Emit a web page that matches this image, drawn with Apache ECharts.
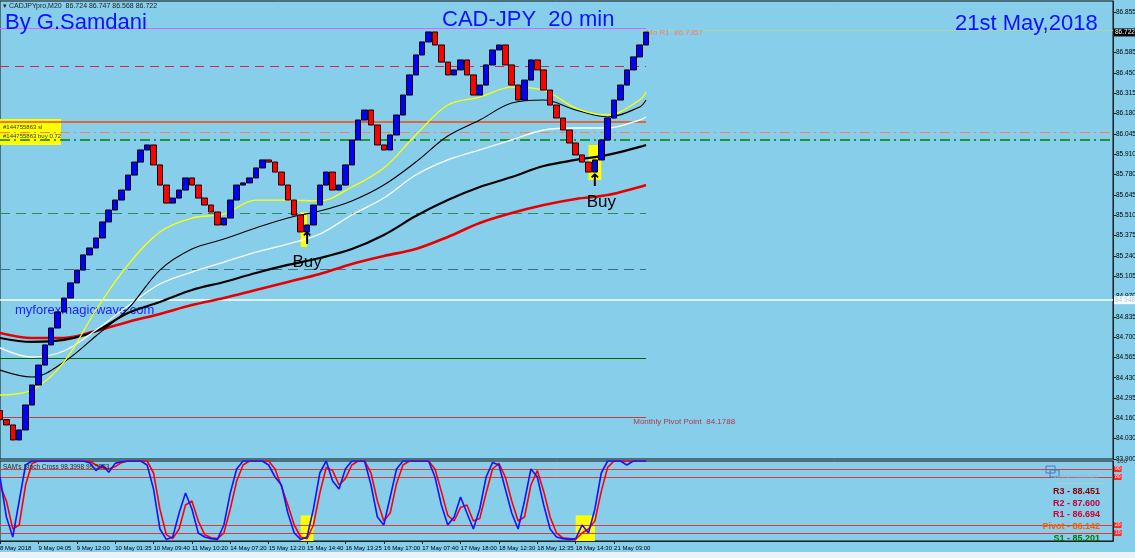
<!DOCTYPE html>
<html><head><meta charset="utf-8">
<script src="https://cdn.jsdelivr.net/npm/echarts/dist/echarts.min.js"></script>
<style>html,body{margin:0;padding:0;background:#87ceeb;overflow:hidden}#c{width:1135px;height:558px}</style>
</head><body><div id="c"></div>
<script>
// ---------- data ----------
const timeLabels = ["8 May 2018","9 May 04:05","9 May 12:00","10 May 01:35","10 May 09:40","11 May 10:20","14 May 07:20","15 May 12:20","15 May 14:40","16 May 13:25","16 May 17:00","17 May 07:40","17 May 18:00","18 May 12:30","18 May 12:35","18 May 14:30","21 May 03:00"];
const priceTickLabels = ["83.900","84.030","84.160","84.295","84.430","84.565","84.700","84.835","84.970","85.105","85.240","85.375","85.510","85.645","85.780","85.910","86.045","86.180","86.315","86.450","86.585","86.720","86.855"];
const firstOpen = 84.22;
const closes = [84.160,84.125,84.026,84.092,84.257,84.389,84.521,84.654,84.766,84.872,84.964,85.064,85.149,85.249,85.295,85.361,85.467,85.546,85.612,85.678,85.777,85.863,85.943,85.976,85.844,85.711,85.592,85.625,85.678,85.758,85.711,85.625,85.579,85.533,85.447,85.493,85.612,85.711,85.725,85.758,85.824,85.877,85.863,85.797,85.711,85.612,85.513,85.401,85.447,85.579,85.711,85.797,85.678,85.711,85.844,86.009,86.141,86.207,86.108,85.976,85.943,86.042,86.174,86.306,86.439,86.571,86.657,86.723,86.637,86.524,86.439,86.472,86.538,86.439,86.306,86.372,86.505,86.604,86.637,86.505,86.372,86.273,86.405,86.538,86.472,86.339,86.240,86.154,86.075,85.989,85.910,85.863,85.797,85.877,86.009,86.154,86.273,86.372,86.472,86.558,86.637,86.722];
const maIndex = [0,5,10,15,20,25,30,35,40,45,50,55,60,65,70,75,80,85,90,95,100,101];
const maYellow = [84.323,84.356,84.541,84.885,85.183,85.401,85.493,85.520,85.612,85.612,85.606,85.698,85.824,86.042,86.240,86.293,86.359,86.339,86.220,86.174,86.273,86.326];
const maBlackThin = [84.488,84.442,84.541,84.713,84.892,85.149,85.288,85.354,85.427,85.493,85.539,85.606,85.711,85.863,86.035,86.141,86.253,86.273,86.207,86.161,86.227,86.273];
const maWhite = [84.634,84.574,84.614,84.753,84.911,85.057,85.136,85.202,85.268,85.321,85.387,85.513,85.625,85.777,85.877,85.943,86.009,86.075,86.088,86.088,86.141,86.161];
const maBlackThick = [84.700,84.674,84.687,84.746,84.865,84.938,85.017,85.070,85.130,85.183,85.229,85.288,85.381,85.506,85.612,85.698,85.764,85.837,85.877,85.910,85.963,85.976];
const maRed = [84.733,84.700,84.700,84.746,84.806,84.859,84.918,84.964,85.017,85.070,85.123,85.189,85.242,85.288,85.368,85.460,85.526,85.579,85.619,85.645,85.698,85.711];
const stochK = [80,30,5,50,95,100,100,100,100,100,100,100,100,100,98,88,95,86,97,99,100,100,100,95,65,15,2,5,35,60,40,10,5,3,2,20,60,90,100,100,100,100,95,80,70,35,10,2,5,40,85,100,75,65,90,100,100,100,70,30,20,55,90,100,100,100,100,100,80,45,20,30,55,35,15,40,80,98,95,65,35,15,50,90,80,45,15,5,3,2,3,20,10,40,85,100,100,100,95,100,100,100];
const stochD = [70,50,15,20,70,97,100,100,100,100,100,100,100,100,100,95,92,90,93,98,100,100,100,100,85,40,8,3,15,45,50,25,8,4,3,10,40,75,95,100,100,100,100,90,68,45,20,5,3,20,60,92,88,70,78,95,100,100,85,50,25,35,72,95,100,100,100,100,90,62,32,25,42,45,25,28,60,90,97,80,50,25,30,70,88,62,30,10,4,3,2,10,15,25,62,92,100,100,100,100,100,100];
const levelPrices = [86.749, 86.7357, 86.498, 86.128, 86.055, 86.009, 85.526, 85.156, 84.948, 84.568, 84.1788];
const stochLevels = [90, 80, 20, 10];
const currentPrice = 86.722;
const pivotTable = ["R3 - 88.451","R2 - 87.600","R1 - 86.694","Pivot - 86.142","S1 - 85.201"];

// ---------- layout / styles ----------
const N = 175, LAST = 101;
const cats = Array.from({length: N}, (_, i) => String(i));
const isLabelIdx = i => i % 6 === 0 && i / 6 < timeLabels.length;
const FONT = '"Liberation Sans", Arial, sans-serif';

const levelStyles = [
  {color:'#c86cff', type:'solid', width:1, partial:true},
  {color:'#a9d6a2', type:'solid', width:1, from:100},
  {color:'#e0204a', type:[9,6], width:1, partial:true},
  {color:'#ff4400', type:'solid', width:1.5, partial:true},
  {color:'#ff7f50', type:[10,4,2,4], width:1, full:true},
  {color:'#008000', type:[10,4,2,4], width:1.5, full:true},
  {color:'#2e8b57', type:[10,6], width:1, partial:true},
  {color:'#3d6f86', type:[10,6], width:1, partial:true},
  {color:'#ffffff', type:'solid', width:1.5, full:true, label:true},
  {color:'#006400', type:'solid', width:1.2, partial:true},
  {color:'#c04040', type:'solid', width:1, partial:true}
];
const levelLines = levelPrices.map((p, k) => {
  const s = levelStyles[k];
  const ls = {color: s.color, type: s.type, width: s.width};
  if (s.full) {
    const item = {yAxis: p, lineStyle: ls, label: {show: false}};
    if (s.label) item.label = {show: true, position: 'end', formatter: '84.948', backgroundColor: '#ffffff', color: '#9fc8dc', fontSize: 6.5, fontFamily: FONT, padding: [1,1,0,1], distance: 1};
    return item;
  }
  const a = s.from != null ? s.from : 0, b = s.from != null ? N - 1 : LAST;
  return [{coord: [a, p], lineStyle: ls, label: {show: false}}, {coord: [b, p]}];
});

const candleData = closes.map((c, i) => {
  const o = i === 0 ? firstOpen : closes[i - 1];
  return [o, c, Math.min(o, c), Math.max(o, c)];
});
const ma = arr => maIndex.map((x, k) => [x, arr[k]]);
const maSeries = (name, arr, color, width) => ({
  name, type: 'line', xAxisIndex: 0, yAxisIndex: 0, data: ma(arr), smooth: 0.35,
  symbol: 'none', lineStyle: {color, width}, z: 2, silent: true
});

const labelStyle = (c, size, bold) => ({fill: c, font: (bold ? 'bold ' : '') + size + 'px ' + FONT});

const option = {
  animation: false,
  backgroundColor: '#87ceeb',
  grid: [
    {left: 0, right: 22, top: 1, height: 458, show: true, borderColor: '#111', borderWidth: 1, backgroundColor: 'transparent', containLabel: false, outerBoundsMode: 'none'},
    {left: 0, right: 22, top: 461, height: 80, show: true, borderColor: '#111', borderWidth: 1, backgroundColor: 'transparent', containLabel: false, outerBoundsMode: 'none'}
  ],
  xAxis: [
    {type: 'category', gridIndex: 0, data: cats, boundaryGap: false, axisLine: {show: false}, axisTick: {show: false}, axisLabel: {show: false}, splitLine: {show: false}},
    {type: 'category', gridIndex: 1, data: cats, boundaryGap: false,
     axisLine: {show: true, lineStyle: {color: '#222'}},
     axisTick: {show: true, interval: (i) => isLabelIdx(i), length: 3, lineStyle: {color: '#222'}},
     axisLabel: {show: true, interval: (i) => isLabelIdx(i), hideOverlap: false, formatter: (v, i) => isLabelIdx(i) ? timeLabels[i / 6] : '', align: 'left', margin: 4, fontSize: 6, color: '#000', fontFamily: FONT},
     splitLine: {show: false}}
  ],
  yAxis: [
    {type: 'value', gridIndex: 0, position: 'right', min: 83.9, max: 86.9277, interval: 0.1343,
     axisLine: {show: true, lineStyle: {color: '#222'}},
     axisTick: {show: true, length: 3, lineStyle: {color: '#222'}},
     axisLabel: {show: true, margin: 3, fontSize: 6.5, color: '#000', fontFamily: FONT, showMaxLabel: false, hideOverlap: false,
       formatter: v => { const k = Math.round((v - 83.9) / 0.1343); return (k >= 0 && k < priceTickLabels.length) ? priceTickLabels[k] : ''; }},
     splitLine: {show: false}},
    {type: 'value', gridIndex: 1, position: 'right', min: 0, max: 100, interval: 50,
     axisLine: {show: true, lineStyle: {color: '#222'}}, axisTick: {show: false},
     axisLabel: {show: true, margin: 4, fontSize: 6, color: '#333', fontFamily: FONT, formatter: v => v === 100 ? '100' : ''},
     splitLine: {show: false}}
  ],
  series: [
    maSeries('MA red', maRed, '#e80000', 2.6),
    maSeries('MA black thick', maBlackThick, '#000000', 2.2),
    Object.assign(maSeries('MA white', maWhite, '#ffffff', 1.3), {
      markLine: {silent: true, symbol: ['none', 'none'], z: 1, animation: false, data: levelLines}
    }),
    maSeries('MA black thin', maBlackThin, '#000000', 1.1),
    Object.assign(maSeries('MA yellow', maYellow, '#ffff00', 1.3), {
      markArea: {silent: true, itemStyle: {color: '#ffff00'}, data: [
        [{coord: [47, 85.533]}, {coord: [48, 85.302]}],
        [{coord: [92, 85.976]}, {coord: [94, 85.744]}]
      ]}
    }),
    {
      name: 'CADJPY', type: 'candlestick', xAxisIndex: 0, yAxisIndex: 0, data: candleData, barWidth: 6, z: 5, silent: true,
      itemStyle: {color: '#0000ff', color0: '#ff0000', borderColor: '#000000', borderColor0: '#1a0000', borderWidth: 1},
      markLine: {silent: true, symbol: ['none', 'none'], data: [
        {yAxis: currentPrice, lineStyle: {width: 0, color: 'rgba(0,0,0,0)'}, label: {show: true, position: 'end', formatter: '86.722', backgroundColor: '#000', color: '#fff', fontSize: 6.5, fontFamily: FONT, padding: [1,1,0,1], distance: 1}}
      ]},
      markPoint: {silent: true, symbolSize: 0, data: [
        {coord: [48, 85.202], label: {show: true, formatter: 'Buy', color: '#000', fontSize: 17, fontFamily: FONT}},
        {coord: [94, 85.599], label: {show: true, formatter: 'Buy', color: '#000', fontSize: 17, fontFamily: FONT}},
        {coord: [48, 85.348], label: {show: true, formatter: '↑', color: '#000', fontSize: 17, fontWeight: 'bold', fontFamily: '"DejaVu Sans", sans-serif'}},
        {coord: [93, 85.731], label: {show: true, formatter: '↑', color: '#000', fontSize: 17, fontWeight: 'bold', fontFamily: '"DejaVu Sans", sans-serif'}},
        {coord: [101, 86.716], label: {show: true, position: 'right', distance: 0, formatter: 'Mo R1  86.7357', color: '#f08070', fontSize: 8, fontFamily: FONT}},
        {coord: [99, 84.148], label: {show: true, position: 'right', distance: 0, formatter: 'Monthly Pivot Point  84.1788', color: '#b03a48', fontSize: 8, fontFamily: FONT}}
      ]}
    },
    {
      name: '%D', type: 'line', xAxisIndex: 1, yAxisIndex: 1, data: stochD, symbol: 'none', lineStyle: {color: '#ff0000', width: 1.6}, z: 3, silent: true,
      markArea: {silent: true, itemStyle: {color: '#ffff00'}, data: [
        [{coord: [47, 32]}, {coord: [49, 0]}],
        [{coord: [90, 32]}, {coord: [93, 0]}]
      ]},
      markLine: {silent: true, symbol: ['none', 'none'], z: 1, data: stochLevels.map(v => ({yAxis: v, lineStyle: {color: '#e03a3a', width: 1, type: 'solid'},
        label: {show: true, position: 'end', formatter: String(v), backgroundColor: '#ff2a2a', color: '#fff', fontSize: 5, padding: [1,1,0,1], distance: 1}}))}
    },
    {name: '%K', type: 'line', xAxisIndex: 1, yAxisIndex: 1, data: stochK, symbol: 'none', lineStyle: {color: '#1414ff', width: 1.6}, z: 4, silent: true}
  ],
  graphic: {elements: [
    {type: 'rect', shape: {x: 0, y: 552, width: 1135, height: 6}, style: {fill: '#edf2f6'}, z: 0, silent: true},
    {type: 'rect', shape: {x: 0, y: 119, width: 61, height: 26}, style: {fill: '#ffff00'}, z: 0, silent: true},
    {type: 'text', x: 3, y: 124, style: Object.assign({text: '#144755863 sl'}, labelStyle('#333', 6)), z: 0, silent: true},
    {type: 'text', x: 3, y: 133, style: Object.assign({text: '#144755863 buy 0.72'}, labelStyle('#333', 6)), z: 0, silent: true},
    {type: 'text', x: 15, y: 304, style: Object.assign({text: 'myforexmagicwave.com'}, labelStyle('#1f1fff', 13)), z: 0, silent: true},
    {type: 'text', x: 3, y: 3, style: Object.assign({text: '▾ CADJPYpro,M20  86.724 86.747 86.568 86.722'}, labelStyle('#222', 7)), z: 100, silent: true},
    {type: 'text', x: 5, y: 12, style: Object.assign({text: 'By G.Samdani'}, labelStyle('#1010ff', 22)), z: 100, silent: true},
    {type: 'text', x: 442, y: 9, style: Object.assign({text: 'CAD-JPY  20 min'}, labelStyle('#1010ff', 22)), z: 100, silent: true},
    {type: 'text', x: 955, y: 13, style: Object.assign({text: '21st May,2018'}, labelStyle('#1010ff', 22)), z: 100, silent: true},
    {type: 'text', x: 3, y: 464, style: Object.assign({text: "SAM's Stoch Cross 98.3998 99.5333"}, labelStyle('#2a2a2a', 6.5)), z: 100, silent: true},
    {type: 'rect', shape: {x: 1046, y: 466, width: 9, height: 7}, style: {fill: 'none', stroke: '#4a78b0', lineWidth: 1}, z: 100, silent: true},
    {type: 'rect', shape: {x: 1050, y: 470, width: 9, height: 7}, style: {fill: 'none', stroke: '#4a78b0', lineWidth: 1}, z: 100, silent: true},
    {type: 'text', x: 1053, y: 474, style: Object.assign({text: 'www.forexstatic.com'}, labelStyle('#93b6cc', 5)), z: 100, silent: true},
    {type: 'rect', shape: {x: 1057, y: 483, width: 48, height: 1}, style: {fill: '#b8c8d2'}, z: 100, silent: true},
    {type: 'text', x: 1100, y: 492, style: Object.assign({text: pivotTable[0], align: 'right', verticalAlign: 'middle'}, labelStyle('#8b0000', 9, true)), z: 100, silent: true},
    {type: 'text', x: 1100, y: 504, style: Object.assign({text: pivotTable[1], align: 'right', verticalAlign: 'middle'}, labelStyle('#c4003c', 9, true)), z: 100, silent: true},
    {type: 'text', x: 1100, y: 515, style: Object.assign({text: pivotTable[2], align: 'right', verticalAlign: 'middle'}, labelStyle('#d4002a', 9, true)), z: 100, silent: true},
    {type: 'text', x: 1100, y: 527, style: Object.assign({text: pivotTable[3], align: 'right', verticalAlign: 'middle'}, labelStyle('#ff5a00', 9, true)), z: 100, silent: true},
    {type: 'text', x: 1100, y: 539, style: Object.assign({text: pivotTable[4], align: 'right', verticalAlign: 'middle'}, labelStyle('#007a00', 9, true)), z: 100, silent: true}
  ]}
};
const chart = echarts.init(document.getElementById('c'), null, {renderer: 'canvas'});
chart.setOption(option);
</script>
</body></html>
